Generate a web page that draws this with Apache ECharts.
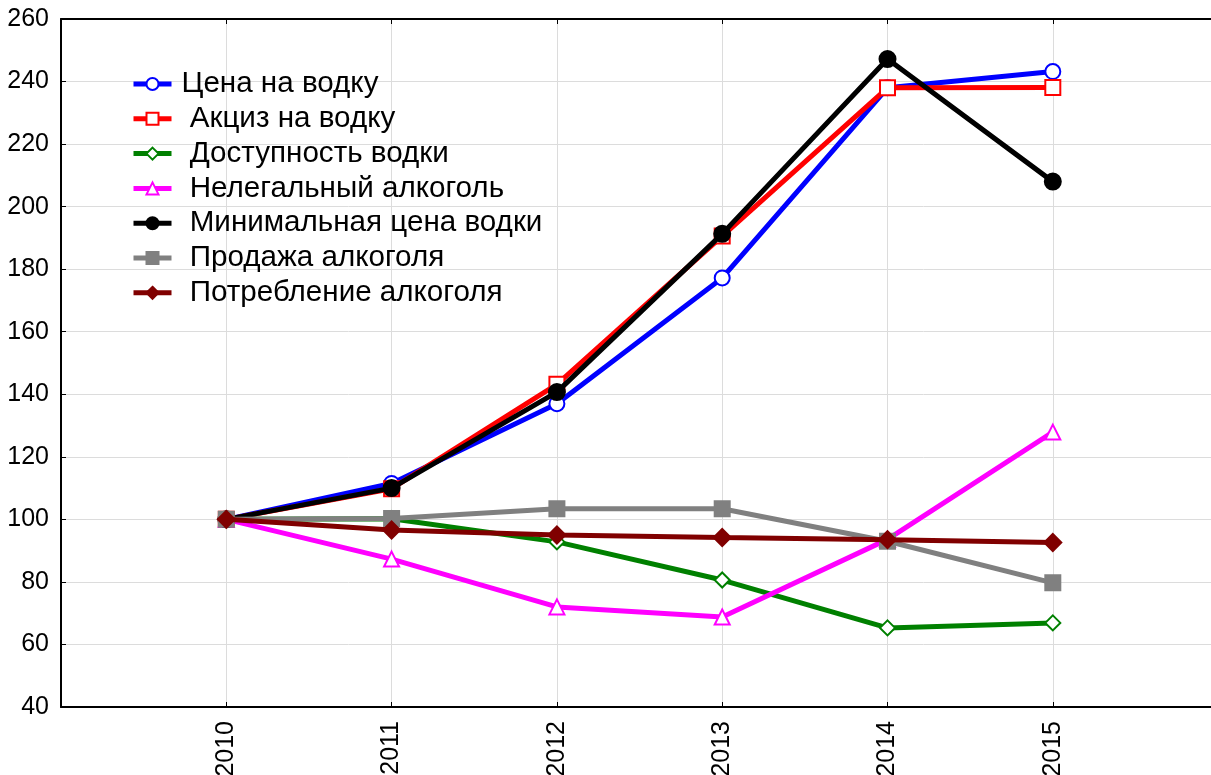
<!DOCTYPE html>
<html><head><meta charset="utf-8">
<script src="https://cdn.jsdelivr.net/npm/echarts@6/dist/echarts.min.js"></script>
<style>html,body{margin:0;padding:0;background:#fff}#c{width:1211px;height:775px}</style>
</head><body><div id="c"></div>
<script>
const years = [2010, 2011, 2012, 2013, 2014, 2015];
const names = ['Цена на водку','Акциз на водку','Доступность водки','Нелегальный алкоголь','Минимальная цена водки','Продажа алкоголя','Потребление алкоголя'];
const priceVodka   = [100, 111.5, 137, 177.2, 238, 243.2];
const exciseVodka  = [100, 109.8, 143.2, 190.6, 238, 238.1];
const availVodka   = [100, 100.2, 92.8, 80.6, 65.3, 66.9];
const illegalAlc   = [100, 87.3, 72, 68.8, 93.6, 127.9];
const minPrice     = [100, 110, 140.7, 191.3, 247.2, 208];
const salesAlc     = [100, 100.3, 103.4, 103.4, 93, 79.7];
const consumAlc    = [100, 96.6, 95, 94.2, 93.5, 92.6];
const yTicks = [40, 60, 80, 100, 120, 140, 160, 180, 200, 220, 240, 260];
const xMin = 2009, xMax = 2015.957;

const seriesData = [priceVodka, exciseVodka, availVodka, illegalAlc, minPrice, salesAlc, consumAlc];
const colors = ['#0000ff','#ff0000','#008000','#ff00ff','#000000','#808080','#800000'];
const symbols = ['emptyCircle','emptyRect','emptyDiamond','emptyTriangle','circle','rect','diamond'];
const sizes = [15, 15, 15, 15, 16, 15, 17];

const font = 'Liberation Sans, Arial, sans-serif';
const chart = echarts.init(document.getElementById('c'), null, {renderer:'canvas'});
const series = names.map((n, i) => ({
  name: n, type: 'line',
  data: years.map((y, j) => [y, seriesData[i][j]]),
  symbol: symbols[i], symbolSize: sizes[i], showAllSymbol: true,
  lineStyle: {color: colors[i], width: 5},
  itemStyle: {color: colors[i], borderColor: colors[i], borderWidth: 2},
  emphasis: {disabled: true}, animation: false, z: 2 + i
}));
chart.setOption({
  animation: false,
  grid: {left: 61, right: 0, top: 19, bottom: 68, outerBoundsMode: 'none', containLabel: false},
  legend: {
    orient: 'vertical', left: 131, top: 69, padding: 0, itemWidth: 38, itemHeight: 15, itemGap: 4.8,
    data: names,
    lineStyle: {width: 5},
    formatter: (n) => n === names[0] ? n : ' ' + n,
    textStyle: {fontFamily: font, fontSize: 29.6, color: '#000', padding: [0, 0, 0, 5]}
  },
  xAxis: [{
    type: 'value', min: xMin, max: xMax, interval: 1, position: 'bottom',
    axisLine: {show: true, lineStyle: {color: '#000', width: 2}},
    axisTick: {show: true, inside: true, length: 5, lineStyle: {color: '#000', width: 1}},
    axisLabel: {rotate: 90, margin: 14, fontFamily: font, fontSize: 25, color: '#000',
      formatter: (v) => years.indexOf(v) >= 0 ? String(v) : ''},
    splitLine: {show: true, lineStyle: {color: '#dcdcdc', width: 1}}
  }, {
    type: 'value', min: xMin, max: xMax, interval: 1, position: 'top',
    axisLine: {show: true, lineStyle: {color: '#000', width: 2}},
    axisTick: {show: true, inside: true, length: 5, lineStyle: {color: '#000', width: 1}},
    axisLabel: {show: false}, splitLine: {show: false}
  }],
  yAxis: {
    type: 'value', min: 40, max: 260, interval: 20,
    axisLine: {show: true, lineStyle: {color: '#000', width: 2}},
    axisTick: {show: true, inside: true, length: 5, lineStyle: {color: '#000', width: 1}},
    axisLabel: {margin: 12, fontFamily: font, fontSize: 25, color: '#000',
      formatter: (v) => yTicks.indexOf(v) >= 0 ? String(v) : ''},
    splitLine: {show: true, lineStyle: {color: '#dcdcdc', width: 1}}
  },
  series: series
});
</script></body></html>
